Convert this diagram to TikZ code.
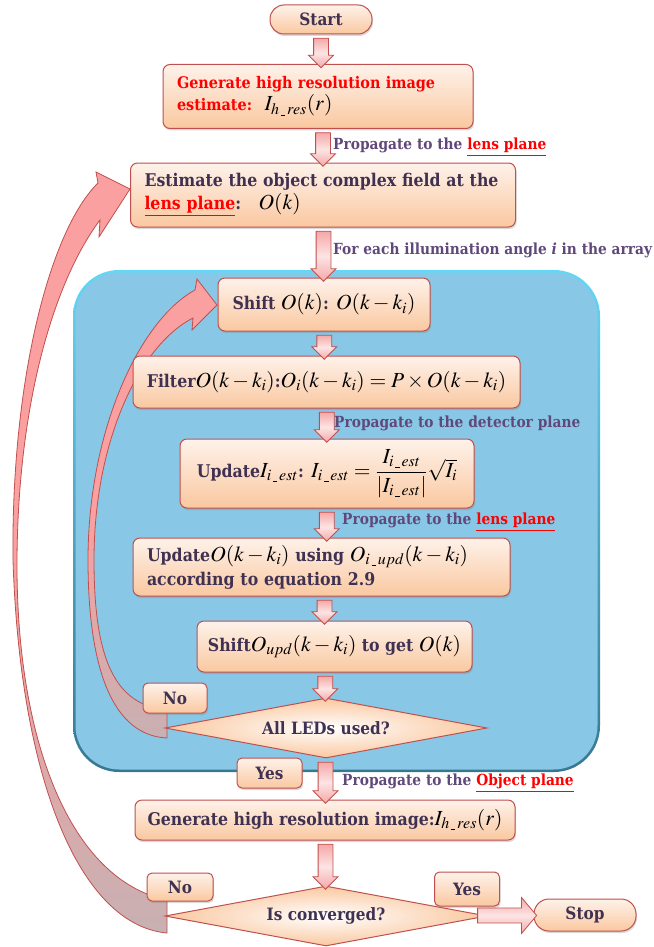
\documentclass[tikz,border=0pt]{standalone}
\usepackage{mathptmx}
\usepackage[no-math]{fontspec}
\setmainfont[FakeStretch=0.9]{DejaVu Serif}
\usetikzlibrary{shapes.geometric,shapes.arrows,calc,shadows}
\definecolor{txt}{RGB}{63,49,81}
\definecolor{labc}{RGB}{96,73,122}
\definecolor{boxred}{RGB}{192,80,77}
\definecolor{boxtop}{RGB}{254,242,234}
\definecolor{boxbot}{RGB}{250,200,160}
\definecolor{pinkd}{RGB}{244,168,168}
\definecolor{pinkl}{RGB}{253,228,228}
\definecolor{salmon}{RGB}{250,160,160}
\definecolor{greypink}{RGB}{200,176,178}
\definecolor{panelfill}{RGB}{137,199,231}
\definecolor{paneltop}{RGB}{100,215,245}
\definecolor{panelbot}{RGB}{55,120,145}
\newcommand\mth[1]{{\color{black}\fontsize{21.5}{24}\selectfont$#1$}}
\newcommand\us{\,\rule[-0.8pt]{4.5pt}{0.5pt}\,}
\newcommand\redu[1]{{\color{red}\underline{#1}}}
\newcommand\varr[3][0]{\path let \p1=(#2.south), \p2=(#3.north) in node[barrow, rotate=-90, minimum height={\y1-\y2}] at ($(\p1)!0.5!(\p2)+(#1,0)$) {};}
\begin{document}
\begin{tikzpicture}[x=1pt,y=-1pt,
 box/.style={draw=boxred, line width=1pt, rounded corners=7pt, top color=boxtop, bottom color=boxbot, text=txt, font=\bfseries\fontsize{17.5}{21}\selectfont, inner sep=0pt, drop shadow={shadow xshift=1pt, shadow yshift=-2pt, opacity=0.3}},
 lbox/.style={box, align=left, inner xsep=14pt},
 smallbox/.style={box, font=\bfseries\fontsize{17}{20}\selectfont, rounded corners=5pt},
 dia/.style={diamond, draw=boxred, line width=1pt, inner sep=0pt, aspect=5.4, inner color=white, outer color=boxbot, text=txt, font=\bfseries\fontsize{17}{20}\selectfont},
 lbl/.style={anchor=west, text=labc, font=\bfseries\fontsize{15.3}{18}\selectfont, inner sep=0pt},
 barrow/.style={single arrow, draw=boxred, line width=0.8pt, inner sep=7pt, minimum width=24pt, single arrow head extend=5pt, single arrow tip angle=90, top color=pinkd, bottom color=pinkd, middle color=pinkl},
 carrow/.style={draw=boxred, line width=0.8pt, top color=salmon, bottom color=greypink, middle color=salmon}
]
\useasboundingbox (0,0) rectangle (653,947);
% panel
\path[top color=paneltop, bottom color=panelbot, rounded corners=46pt] (73,270) rectangle (600,772);
\fill[panelfill, rounded corners=44pt] (75.5,272.5) rectangle (597.5,769.5);
% curved arrows
\path[carrow] (167,933) .. controls (80,925) and (20,780) .. (13,560) .. controls (11,380) and (50,230) .. (98,183) -- (96,172) -- (130,189) -- (99,237) -- (100,220) .. controls (55,280) and (18,400) .. (17,560) .. controls (16,740) and (70,880) .. (167,900) -- cycle;
\path[carrow] (167,738) .. controls (105,735) and (88,650) .. (88,560) .. controls (88,430) and (140,320) .. (195,290) -- (197,279) -- (217,305) -- (192,330) -- (193,318) .. controls (140,345) and (94,440) .. (94,560) .. controls (94,660) and (115,705) .. (167,710) -- cycle;
% nodes
\node[box, minimum width=102pt, minimum height=29pt, rounded corners=14pt, font=\bfseries\fontsize{17}{20}\selectfont] (start) at (321,19.5) {Start};
\node[lbox, text=red, text width=282pt, minimum height=64pt, font=\bfseries\fontsize{16}{20}\selectfont] (g1) at (318,96.5) {Generate high resolution image\\[2pt]estimate:\; \mth{I_{h\us res}(r)}};
\node[lbox, text width=357pt, minimum height=64pt] (est) at (323,195) {Estimate the object complex field at the\\[2pt]\redu{lens plane}:\quad\mth{O(k)}};
\node[box, minimum width=212pt, minimum height=53pt] (sh1) at (324,304.5) {Shift \mth{O(k)}: \mth{O(k-k_i)}};
\node[box, minimum width=387pt, minimum height=52pt] (filt) at (326.5,382) {Filter\mth{O(k-k_i)}:\mth{O_i(k-k_i)=P\times O(k-k_i)}};
\node[box, minimum width=294pt, minimum height=69pt] (updI) at (327,473.5) {Update\mth{I_{i\us est}}: \mth{I_{i\us est}=\displaystyle\frac{I_{i\us est}}{\left|I_{i\us est}\right|}\sqrt{I_i}}};
\node[lbox, text width=349pt, minimum height=58pt] (updO) at (321.5,567) {Update\mth{O(k-k_i)} using \mth{O_{i\us upd}(k-k_i)}\\[3pt]according to equation 2.9};
\node[box, minimum width=275pt, minimum height=51pt] (sh2) at (334.5,646.5) {Shift\mth{O_{upd}(k-k_i)} to get \mth{O(k)}};
\node[box, minimum width=380pt, minimum height=40pt] (gen) at (325,820) {Generate high resolution image:\mth{I_{h\us res}(r)}};
\node[box, minimum width=102pt, minimum height=32pt, rounded corners=15pt, font=\bfseries\fontsize{17}{20}\selectfont] (stop) at (585,915) {Stop};
% arrows
\varr[1.5]{start}{g1}
\varr[2.5]{g1}{est}
\varr[0]{est}{sh1}
\varr[-1]{sh1}{filt}
\varr[0]{filt}{updI}
\varr[2.5]{updI}{updO}
\varr[-3.5]{updO}{sh2}
\node[dia, minimum width=322pt, minimum height=60pt] (d1) at (326,728) {All LEDs used?};
\node[dia, minimum width=322pt, minimum height=60pt] (d2) at (326,916) {Is converged?};
\varr[-5]{sh2}{d1}
\varr[0]{d1}{gen}
\varr[0]{gen}{d2}
\path let \p1=($(d2.east)+(-13,0)$), \p2=(stop.west) in node[barrow, minimum height={\x2-\x1}, minimum width=36pt, single arrow head extend=10.5pt, single arrow tip angle=100] at ($(\p1)!0.5!(\p2)$) {};
\node[smallbox, minimum width=64pt, minimum height=30pt] (no1) at (175,698) {No};
\node[smallbox, minimum width=65pt, minimum height=30pt] (yes1) at (269.5,773) {Yes};
\node[smallbox, minimum width=66pt, minimum height=28pt] (no2) at (180,887) {No};
\node[smallbox, minimum width=65pt, minimum height=34pt] (yes2) at (467,889) {Yes};
% labels
\node[lbl] (l1) at (333,147) {Propagate to the \redu{lens plane}};
\node[lbl] (l2) at (333,250) {For each illumination angle \textit{i} in the array};
\node[lbl] (l3) at (334,423) {Propagate to the detector plane};
\node[lbl] (l4) at (342,522) {Propagate to the \redu{lens plane}};
\node[lbl] (l5) at (342,783) {Propagate to the \redu{Object plane}};
\end{tikzpicture}
\end{document}
